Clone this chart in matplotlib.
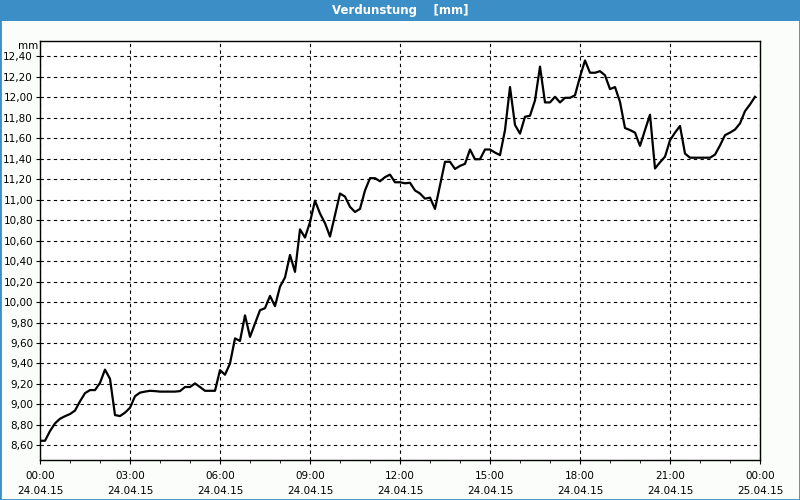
import numpy as np
import matplotlib
matplotlib.use("Agg")
import matplotlib.pyplot as plt
from matplotlib.ticker import MultipleLocator, FuncFormatter
from matplotlib.patches import Rectangle

# 10-minute values of evaporation, 00:00 .. 23:50
verdunstung = [
    8.645, 8.645, 8.74, 8.815, 8.86, 8.885, 8.906, 8.94, 9.03, 9.11, 9.14, 9.14,
    9.21, 9.34, 9.25, 8.896, 8.886, 8.92, 8.967, 9.08, 9.115, 9.125, 9.133, 9.13,
    9.125, 9.125, 9.125, 9.125, 9.13, 9.17, 9.17, 9.205, 9.17, 9.133, 9.133, 9.133,
    9.335, 9.29, 9.40, 9.645, 9.62, 9.87, 9.66, 9.79, 9.92, 9.94, 10.06, 9.96,
    10.15, 10.24, 10.46, 10.295, 10.71, 10.63, 10.78, 10.99, 10.865, 10.77, 10.64, 10.85,
    11.06, 11.03, 10.93, 10.88, 10.91, 11.09, 11.21, 11.21, 11.18, 11.22, 11.245, 11.17,
    11.17, 11.16, 11.165, 11.09, 11.06, 11.01, 11.02, 10.91, 11.14, 11.37, 11.37, 11.30,
    11.33, 11.35, 11.49, 11.395, 11.395, 11.49, 11.49, 11.46, 11.435, 11.68, 12.10, 11.73,
    11.645, 11.81, 11.82, 11.97, 12.30, 11.95, 11.95, 12.005, 11.95, 11.995, 11.995, 12.02,
    12.20, 12.36, 12.24, 12.24, 12.255, 12.215, 12.08, 12.10, 11.955, 11.70, 11.68, 11.655,
    11.525, 11.68, 11.83, 11.305, 11.365, 11.42, 11.58, 11.655, 11.72, 11.45, 11.41, 11.41,
    11.41, 11.41, 11.41, 11.44, 11.53, 11.63, 11.655, 11.685, 11.745, 11.865, 11.93, 12.005,
]
stunden = np.arange(len(verdunstung)) / 6.0

x_ticks = [0, 3, 6, 9, 12, 15, 18, 21, 24]
x_labels = ["00:00\n24.04.15", "03:00\n24.04.15", "06:00\n24.04.15", "09:00\n24.04.15",
            "12:00\n24.04.15", "15:00\n24.04.15", "18:00\n24.04.15", "21:00\n24.04.15",
            "00:00\n25.04.15"]

blau = "#3c8fc6"
bg = "#fbfdfb"

fig = plt.figure(figsize=(8, 5), dpi=100, facecolor=bg)
# title bar + thin frame
fig.patches.append(Rectangle((0, 1 - 21 / 500), 1, 21 / 500, transform=fig.transFigure,
                             facecolor=blau, edgecolor="none", zorder=0))
fig.patches.append(Rectangle((0, 0), 1, 1, transform=fig.transFigure,
                             facecolor="none", edgecolor=blau, linewidth=2, zorder=0))
fig.text(0.5, 1 - 10.5 / 500, "Verdunstung    [mm]", color="white", fontsize=8.5,
         fontweight="bold", ha="center", va="center")

ax = fig.add_axes([0.05, 0.08, 0.90, 0.838])
ax.set_facecolor("white")
ax.plot(stunden, verdunstung, color="black", linewidth=1.6)

ax.set_xlim(0, 24)
ax.set_ylim(8.457, 12.55)
ax.set_xticks(x_ticks)
ax.set_xticklabels(x_labels, linespacing=1.6)
ax.xaxis.set_minor_locator(MultipleLocator(1))
ax.yaxis.set_major_locator(MultipleLocator(0.2))
ax.yaxis.set_major_formatter(FuncFormatter(lambda v, p: f"{v:.2f}".replace(".", ",")))

ax.grid(True, which="major", color="black", linestyle=(0, (3, 3)), linewidth=0.8)
ax.tick_params(axis="both", which="major", labelsize=7.5, length=3, color="black", pad=2)
ax.tick_params(axis="x", which="minor", length=2.5)
ax.tick_params(axis="x", pad=5)
for s in ax.spines.values():
    s.set_color("black")
    s.set_linewidth(1)

fig.text(0.0475, 1 - 46 / 500, "mm", fontsize=7.5, ha="right", va="center")

fig.savefig("out.png", dpi=100, facecolor=bg)
